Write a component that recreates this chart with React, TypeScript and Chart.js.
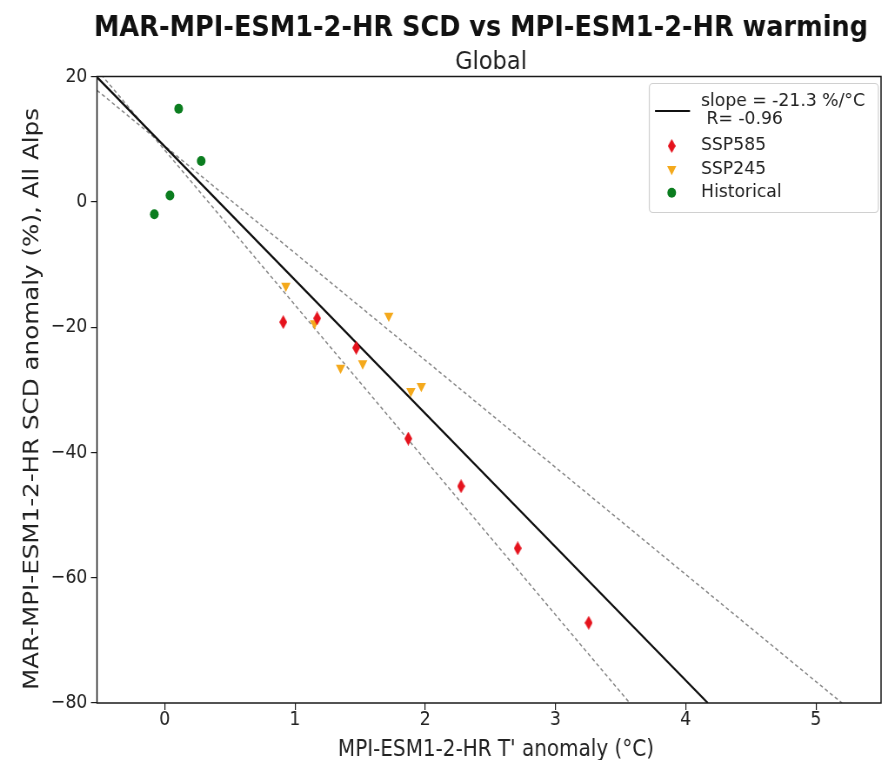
import React, { useEffect, useRef } from "react";
import { Chart, registerables } from "chart.js";

Chart.register(...registerables);

// ---------- data ----------
const ssp585X = [0.91, 1.17, 1.47, 1.87, 2.275, 2.71, 3.255];
const ssp585Y = [-19.2, -18.6, -23.3, -37.8, -45.4, -55.3, -67.2];
const ssp245X = [0.93, 1.15, 1.72, 1.35, 1.52, 1.89, 1.97];
const ssp245Y = [-13.4, -19.4, -18.2, -26.5, -25.8, -30.2, -29.4];
const histX = [0.107, 0.28, 0.04, -0.08];
const histY = [14.85, 6.5, 1.0, -2.0];
const fitX = [-0.52, 4.17];
const fitY = [19.9, -80];
const upperX = [-0.52, 5.2];
const upperY = [17.8, -80];
const lowerX = [-0.52, 3.57];
const lowerY = [21.1, -80];
const xTicks = [0, 1, 2, 3, 4, 5];
const yTicks = [20, 0, -20, -40, -60, -80];
const titleText = "MAR-MPI-ESM1-2-HR SCD vs MPI-ESM1-2-HR warming";
const subtitleText = "Global";
const xLabel = "MPI-ESM1-2-HR T' anomaly (°C)";
const yLabel = "MAR-MPI-ESM1-2-HR SCD anomaly (%), All Alps";
const fitLabel = ["slope = -21.3 %/°C", " R= -0.96"];
const seriesNames = ["SSP585", "SSP245", "Historical"];

// ---------- style ----------
const W = 1021; // internal canvas width, shown at 888 px (reference is squeezed horizontally)
const H = 760;
const SQ = 888 / W;
const FONT = '"DejaVu Sans", "Liberation Sans", sans-serif';
const RED = "#e5121c";
const ORANGE = "#f4a91c";
const GREEN = "#0b7d1f";

function pts(xs: number[], ys: number[]) {
  return xs.map((x, i) => ({ x, y: ys[i] }));
}

function makeDiamond(color: string) {
  const c = document.createElement("canvas");
  const w = 9, h = 14;
  c.width = w;
  c.height = h;
  const g = c.getContext("2d")!;
  g.fillStyle = color;
  g.beginPath();
  g.moveTo(w / 2, 0);
  g.lineTo(w, h / 2);
  g.lineTo(w / 2, h);
  g.lineTo(0, h / 2);
  g.closePath();
  g.fill();
  return c;
}

// draw text so that its width matches a target (in reference pixels)
function fitText(
  ctx: CanvasRenderingContext2D,
  text: string,
  x: number,
  y: number,
  font: string,
  targetRefWidth: number
) {
  ctx.font = font;
  const w = ctx.measureText(text).width;
  const sx = targetRefWidth / SQ / w;
  ctx.save();
  ctx.translate(x, y);
  ctx.scale(sx, 1);
  ctx.fillText(text, 0, 0);
  ctx.restore();
  return sx;
}

export default function App() {
  const ref = useRef<HTMLCanvasElement>(null);

  useEffect(() => {
    document.body.style.margin = "0";
    const diamond = makeDiamond(RED);

    const decor = {
      id: "decor",
      afterDraw(chart: any) {
        const ctx = chart.ctx as CanvasRenderingContext2D;
        const a = chart.chartArea;
        ctx.save();
        // frame
        ctx.strokeStyle = "#1a1a1a";
        ctx.lineWidth = 1.5;
        ctx.strokeRect(a.left, a.top, a.right - a.left, a.bottom - a.top);

        ctx.fillStyle = "#111";
        ctx.textAlign = "center";
        ctx.textBaseline = "alphabetic";
        // title
        fitText(ctx, titleText, 481 / SQ, 36, `bold 29px ${FONT}`, 774);
        // subtitle
        ctx.fillStyle = "#222";
        fitText(ctx, subtitleText, 491 / SQ, 69, `25px ${FONT}`, 72);
        // x label
        fitText(ctx, xLabel, 496 / SQ, 755.5, `23px ${FONT}`, 316);
        // y label
        ctx.save();
        ctx.translate(32.5 / SQ, 399);
        ctx.rotate(-Math.PI / 2);
        ctx.textBaseline = "middle";
        ctx.font = `24.6px ${FONT}`;
        ctx.fillText(yLabel, 0, 0);
        ctx.restore();

        // legend
        const bx = 649.3 / SQ, by = 83.5, bw = (878.3 - 649.3) / SQ, bh = 129;
        ctx.beginPath();
        ctx.roundRect(bx, by, bw, bh, 4);
        ctx.fillStyle = "rgba(255,255,255,0.85)";
        ctx.fill();
        ctx.strokeStyle = "#d0d0d0";
        ctx.lineWidth = 1.2;
        ctx.stroke();

        ctx.strokeStyle = "#111";
        ctx.lineWidth = 2;
        ctx.beginPath();
        ctx.moveTo(655 / SQ, 111);
        ctx.lineTo(690 / SQ, 111);
        ctx.stroke();

        ctx.textAlign = "left";
        ctx.textBaseline = "middle";
        ctx.fillStyle = "#222";
        const tx = 701 / SQ;
        const lf = `17px ${FONT}`;
        const sx = fitText(ctx, fitLabel[0], tx, 101.7, lf, 164);
        const drawScaled = (t: string, y: number) => {
          ctx.save();
          ctx.translate(tx, y);
          ctx.scale(sx, 1);
          ctx.fillText(t, 0, 0);
          ctx.restore();
        };
        drawScaled(fitLabel[1], 120);
        const rows = [146, 169.3, 192.7];
        seriesNames.forEach((n, i) => drawScaled(n, rows[i]));

        const mx = 671.7 / SQ;
        ctx.drawImage(diamond, mx - diamond.width / 2, rows[0] - diamond.height / 2);
        ctx.fillStyle = ORANGE;
        ctx.beginPath();
        ctx.moveTo(mx - 5.3, rows[1] - 3.2);
        ctx.lineTo(mx + 5.3, rows[1] - 3.2);
        ctx.lineTo(mx, rows[1] + 6);
        ctx.closePath();
        ctx.fill();
        ctx.fillStyle = GREEN;
        ctx.beginPath();
        ctx.arc(mx, rows[2], 5, 0, Math.PI * 2);
        ctx.fill();
        ctx.restore();
      },
    };

    const chart = new Chart(ref.current!, {
      type: "scatter",
      data: {
        datasets: [
          {
            label: seriesNames[0],
            data: pts(ssp585X, ssp585Y),
            pointStyle: diamond as any,
            pointRadius: 7,
            backgroundColor: RED,
            borderColor: RED,
          },
          {
            label: seriesNames[1],
            data: pts(ssp245X, ssp245Y),
            pointStyle: "triangle",
            rotation: 180,
            pointRadius: 6.2,
            borderWidth: 0,
            backgroundColor: ORANGE,
            borderColor: ORANGE,
          },
          {
            label: seriesNames[2],
            data: pts(histX, histY),
            pointStyle: "circle",
            pointRadius: 5,
            borderWidth: 0,
            backgroundColor: GREEN,
            borderColor: GREEN,
          },
          {
            label: "fit",
            data: pts(fitX, fitY),
            showLine: true,
            pointRadius: 0,
            borderColor: "#111",
            borderWidth: 2.2,
          },
          {
            label: "upper",
            data: pts(upperX, upperY),
            showLine: true,
            pointRadius: 0,
            borderColor: "#8a8a8a",
            borderWidth: 1.5,
            borderDash: [4, 3],
          },
          {
            label: "lower",
            data: pts(lowerX, lowerY),
            showLine: true,
            pointRadius: 0,
            borderColor: "#8a8a8a",
            borderWidth: 1.5,
            borderDash: [4, 3],
          },
        ],
      },
      options: {
        responsive: false,
        animation: false,
        devicePixelRatio: 1,
        layout: { padding: { left: 0, right: W - 885 / SQ, top: 76.5, bottom: 0 } },
        plugins: {
          legend: { display: false },
          title: { display: false },
          tooltip: { enabled: false },
        },
        scales: {
          x: {
            type: "linear",
            min: -0.52,
            max: 5.5,
            afterBuildTicks: (s: any) => {
              s.ticks = xTicks.map((v) => ({ value: v }));
            },
            afterFit: (s: any) => {
              s.height = 57;
            },
            border: { display: false },
            grid: {
              drawOnChartArea: false,
              drawTicks: true,
              tickLength: 7,
              color: "#1a1a1a",
              lineWidth: 1.2,
            },
            ticks: {
              padding: 0,
              color: "#222",
              font: { family: FONT, size: 19.9, lineHeight: 1 },
              callback: (v: any) => String(v),
              maxRotation: 0,
            },
          },
          y: {
            type: "linear",
            min: -80,
            max: 20,
            afterBuildTicks: (s: any) => {
              s.ticks = yTicks.map((v) => ({ value: v }));
            },
            afterFit: (s: any) => {
              s.width = 97 / SQ;
            },
            border: { display: false },
            grid: {
              drawOnChartArea: false,
              drawTicks: true,
              tickLength: 7,
              color: "#1a1a1a",
              lineWidth: 1.2,
            },
            ticks: {
              padding: 4,
              color: "#222",
              font: { family: FONT, size: 19.9 },
              callback: (v: any) => String(v).replace("-", "\u2212"),
            },
          },
        },
      },
      plugins: [decor],
    } as any);
    return () => chart.destroy();
  }, []);

  return (
    <div style={{ position: "absolute", left: 0, top: 0, width: 888, height: 760, background: "#fff" }}>
      <canvas
        ref={ref}
        width={W}
        height={H}
        style={{ width: "888px", height: "760px", display: "block" }}
      />
    </div>
  );
}
